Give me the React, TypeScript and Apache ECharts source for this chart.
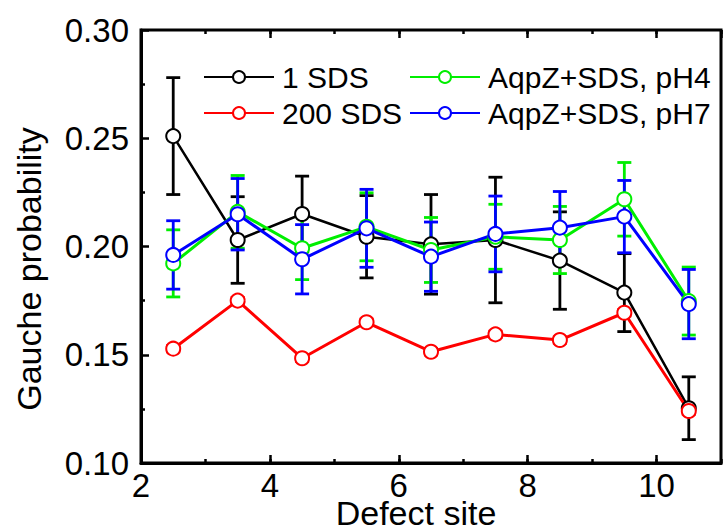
import React, { useEffect, useRef } from "react";
import * as echarts from "echarts";

const sites = [2.5, 3.5, 4.5, 5.5, 6.5, 7.5, 8.5, 9.5, 10.5];
const sds1 = [0.251, 0.203, 0.215, 0.2045, 0.201, 0.203, 0.1935, 0.1787, 0.1253];
const sds1Err = [0.027, 0.02, 0.0175, 0.019, 0.023, 0.029, 0.0225, 0.018, 0.0145];
const sds200 = [0.1528, 0.175, 0.1484, 0.165, 0.1514, 0.1594, 0.1568, 0.1694, 0.124];
const sds200Err = [0.0015, 0.0015, 0.0015, 0.0015, 0.0015, 0.0015, 0.0015, 0.0015, 0.0015];
const ph4 = [0.1922, 0.216, 0.1992, 0.2091, 0.1984, 0.2045, 0.203, 0.2218, 0.1748];
const ph4Err = [0.0155, 0.0168, 0.0145, 0.0157, 0.015, 0.015, 0.0155, 0.017, 0.0157];
const ph7 = [0.1961, 0.2149, 0.1941, 0.2084, 0.1953, 0.2058, 0.2087, 0.2138, 0.1734];
const ph7Err = [0.0158, 0.0165, 0.016, 0.018, 0.016, 0.0175, 0.0167, 0.0167, 0.016];

const seriesNames = ["1 SDS", "200 SDS", "AqpZ+SDS, pH4", "AqpZ+SDS, pH7"];
const yTickLabels = ["0.10", "0.15", "0.20", "0.25", "0.30"];
const xTickLabels = ["2", "4", "6", "8", "10"];
const xName = "Defect site";
const yName = "Gauche probability";

const FONT = "'Liberation Sans', Arial, Helvetica, sans-serif";

export default function App() {
  const ref = useRef<HTMLDivElement>(null);
  useEffect(() => {
    if (!ref.current) return;
    const chart = echarts.init(ref.current, undefined, { renderer: "svg" });

    const groups = [
      { name: seriesNames[0], vals: sds1, errs: sds1Err, color: "#000000", lw: 2.5 },
      { name: seriesNames[1], vals: sds200, errs: sds200Err, color: "#ff0000", lw: 3 },
      { name: seriesNames[2], vals: ph4, errs: ph4Err, color: "#00ee00", lw: 3 },
      { name: seriesNames[3], vals: ph7, errs: ph7Err, color: "#0000ff", lw: 3 },
    ];

    const series: any[] = [];
    groups.forEach((g) => {
      series.push({
        type: "custom",
        name: g.name + " err",
        xAxisIndex: 0,
        yAxisIndex: 0,
        clip: false,
        data: sites.map((s, i) => [s, g.vals[i] - g.errs[i], g.vals[i] + g.errs[i]]),
        encode: { x: 0, y: [1, 2] },
        renderItem: (params: any, api: any) => {
          const x = api.value(0);
          const lo = api.coord([x, api.value(1)]);
          const hi = api.coord([x, api.value(2)]);
          const w = 7;
          const style = { stroke: g.color, lineWidth: 2.8, fill: null };
          return {
            type: "group",
            children: [
              { type: "line", shape: { x1: lo[0], y1: lo[1], x2: hi[0], y2: hi[1] }, style },
              { type: "line", shape: { x1: lo[0] - w, y1: lo[1], x2: lo[0] + w, y2: lo[1] }, style },
              { type: "line", shape: { x1: hi[0] - w, y1: hi[1], x2: hi[0] + w, y2: hi[1] }, style },
            ],
          };
        },
      });
      series.push({
        type: "line",
        name: g.name,
        xAxisIndex: 0,
        yAxisIndex: 0,
        data: sites.map((s, i) => [s, g.vals[i]]),
        symbol: "emptyCircle",
        symbolSize: 14,
        lineStyle: { color: g.color, width: g.lw },
        itemStyle: { color: g.color, borderColor: g.color, borderWidth: 3 },
        emphasis: { disabled: true },
      });
    });

    const tickStyle = { color: "#000", width: 2.5 };
    const baseX = { type: "value", min: 2, max: 11, splitLine: { show: false } };
    const legendText = {
      fontSize: 30,
      fontFamily: FONT,
      color: "#000",
      lineHeight: 30,
      padding: [0, 0, 0, 3],
    };

    const option: any = {
      animation: false,
      backgroundColor: "#fff",
      grid: {
        left: 141,
        right: 2,
        top: 30,
        bottom: 68,
        show: true,
        borderColor: "#000",
        borderWidth: 3,
        backgroundColor: "transparent",
      },
      xAxis: [
        {
          ...baseX,
          interval: 2,
          position: "bottom",
          axisLine: { show: true, lineStyle: { color: "#000", width: 3 } },
          axisTick: { show: true, inside: true, length: 8, lineStyle: tickStyle },
          axisLabel: {
            show: true,
            showMaxLabel: false,
            color: "#000",
            fontSize: 33,
            fontFamily: FONT,
            margin: 6,
            formatter: (v: number) => {
              const s = String(v);
              return xTickLabels.includes(s) ? s : "";
            },
          },
        },
        {
          ...baseX,
          interval: 1,
          position: "bottom",
          axisLine: { show: false },
          axisTick: { show: true, inside: true, length: 4, lineStyle: tickStyle },
          axisLabel: { show: false },
        },
        {
          ...baseX,
          interval: 2,
          position: "top",
          axisLine: { show: false },
          axisTick: { show: true, inside: true, length: 8, lineStyle: tickStyle },
          axisLabel: { show: false },
        },
        {
          ...baseX,
          interval: 1,
          position: "top",
          axisLine: { show: false },
          axisTick: { show: true, inside: true, length: 4, lineStyle: tickStyle },
          axisLabel: { show: false },
        },
      ],
      yAxis: {
        type: "value",
        min: 0.1,
        max: 0.3,
        interval: 0.05,
        splitLine: { show: false },
        axisLine: { show: true, lineStyle: { color: "#000", width: 3 } },
        axisTick: { show: true, inside: true, length: 8, lineStyle: tickStyle },
        minorTick: { show: true, splitNumber: 2, length: 4, lineStyle: tickStyle },
        axisLabel: {
          color: "#000",
          fontSize: 33,
          fontFamily: FONT,
          margin: 12,
          formatter: (v: number) => {
            const s = v.toFixed(2);
            return yTickLabels.includes(s) ? s : "";
          },
        },
      },
      legend: [
        {
          data: [seriesNames[0], seriesNames[1]],
          orient: "vertical",
          left: 203,
          top: 62,
          padding: 0,
          itemWidth: 70,
          itemHeight: 15,
          itemGap: 6,
          selectedMode: false,
          textStyle: legendText,
        },
        {
          data: [seriesNames[2], seriesNames[3]],
          orient: "vertical",
          left: 409,
          top: 62,
          padding: 0,
          itemWidth: 70,
          itemHeight: 15,
          itemGap: 6,
          selectedMode: false,
          textStyle: legendText,
        },
      ],
      graphic: [
        {
          type: "text",
          x: 416,
          y: 513,
          style: {
            text: xName,
            font: `34px ${FONT}`,
            fill: "#000",
            textAlign: "center",
            textVerticalAlign: "middle",
          },
        },
        {
          type: "text",
          x: 29,
          y: 269,
          rotation: Math.PI / 2,
          style: {
            text: yName,
            font: `34px ${FONT}`,
            fill: "#000",
            textAlign: "center",
            textVerticalAlign: "middle",
          },
        },
      ],
      series,
    };

    chart.setOption(option);
    return () => chart.dispose();
  }, []);

  return (
    <div
      ref={ref}
      style={{ position: "fixed", left: 0, top: 0, width: 723, height: 531, background: "#fff" }}
    />
  );
}
